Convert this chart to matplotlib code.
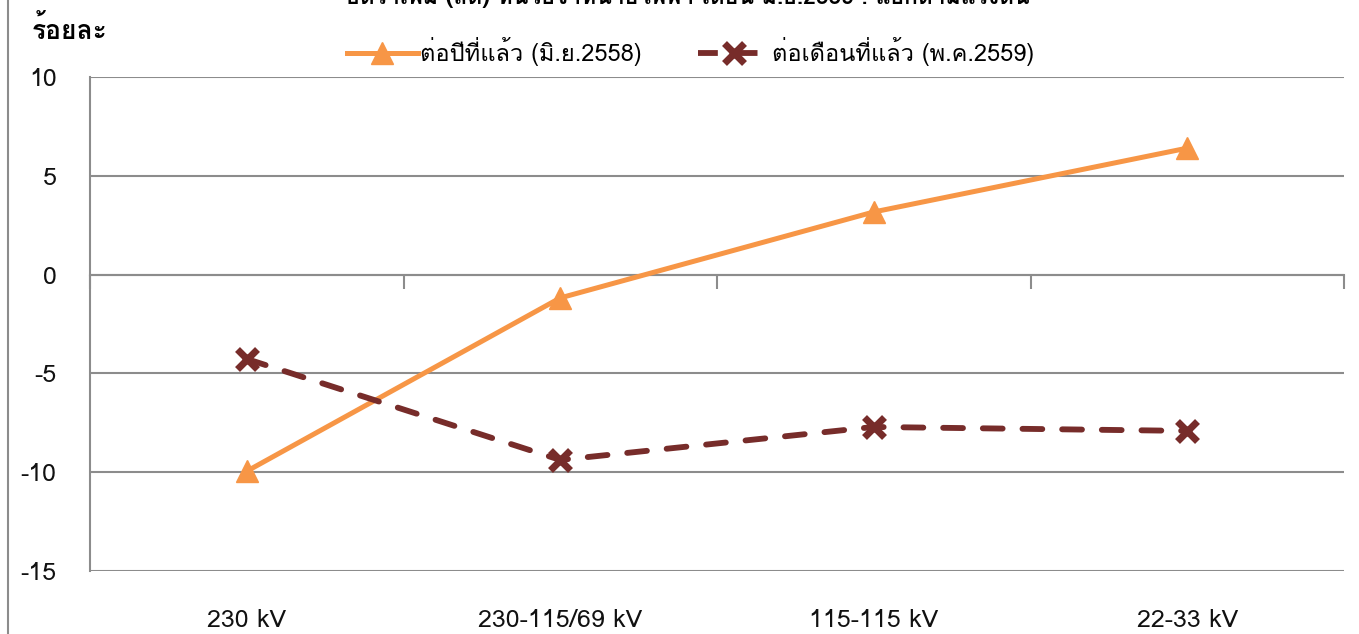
import matplotlib.pyplot as plt
from matplotlib import font_manager
from matplotlib.lines import Line2D
from matplotlib.transforms import blended_transform_factory

categories = ["230 kV", "230-115/69 kV", "115-115 kV", "22-33 kV"]
yoy = [-9.95, -1.18, 3.17, 6.40]
mom = [-4.27, -9.38, -7.71, -7.91]
yoy_label = "ต่อปีที่แล้ว (มิ.ย.2558)"
mom_label = "ต่อเดือนที่แล้ว (พ.ค.2559)"
title = "อัตราเพิ่ม (ลด) หน่วยจำหน่ายไฟฟ้า เดือน มิ.ย.2559 : แยกตามแรงดัน"
y_unit = "ร้อยละ"

# find whatever font has thai glyphs
thai_fonts = []
for f in font_manager.fontManager.ttflist:
    if "thai" in f.name.lower() or f.name in ("Loma", "Garuda", "Sarabun", "Tahoma"):
        if f.name not in thai_fonts:
            thai_fonts.append(f.name)
families = thai_fonts + ["DejaVu Sans"]
plt.rcParams["font.family"] = families
plt.rcParams["axes.unicode_minus"] = False

orange = "#F79646"
darkred = "#772C2A"
grid_c = "#8C8C8C"

fig = plt.figure(figsize=(13.59, 6.34), dpi=100)
ax = fig.add_axes([90 / 1359, 63 / 634, 1254 / 1359, 494 / 634])

x = [i + 0.5 for i in range(len(categories))]
ax.plot(x, yoy, color=orange, lw=3.6, marker="^", markersize=16,
        markerfacecolor=orange, markeredgecolor=orange, zorder=3)
ax.plot(x, mom, color=darkred, lw=4.2, dashes=(3.4, 3.4), dash_capstyle="round",
        marker="x", markersize=14, markeredgewidth=5, zorder=3)

ax.set_xlim(0, 4)
ax.set_ylim(-15, 10)
ax.set_yticks(range(-15, 11, 5))
ax.yaxis.grid(True, color=grid_c, lw=1.5)
ax.set_axisbelow(True)
ax.tick_params(axis="y", length=0, labelsize=18, pad=24, labelcolor="#111111")

# category axis sits at zero with ticks between categories
for s in ["top", "right"]:
    ax.spines[s].set_visible(False)
ax.spines["left"].set_color(grid_c)
ax.spines["left"].set_linewidth(1.5)
ax.spines["bottom"].set_position(("data", 0))
ax.spines["bottom"].set_color(grid_c)
ax.spines["bottom"].set_linewidth(1.5)
ax.set_xticks(range(0, 5))
ax.tick_params(axis="x", direction="out", length=10, width=1.5, color=grid_c,
               labelbottom=False)

trans = blended_transform_factory(ax.transData, ax.transAxes)
for xi, lab in zip(x, categories):
    ax.text(xi, -0.1, lab, transform=trans, ha="center", va="center",
            fontsize=18, color="#111111")

handles = [
    Line2D([], [], color=orange, lw=3.6, marker="^", markersize=16),
    Line2D([], [], color=darkred, lw=4.2, dashes=(3.4, 3.4), marker="x",
           markersize=14, markeredgewidth=5),
]
fig.legend(handles, [yoy_label, mom_label], loc="center", bbox_to_anchor=(0.508, 0.918),
           ncol=2, frameon=False, fontsize=17, handlelength=3.0, handletextpad=0.1,
           columnspacing=2.4)

fig.text(32 / 1359, 1 - 30 / 634, y_unit, fontsize=19, fontweight="bold",
         ha="left", va="center")
# title is cut off at the top edge in the original
fig.text(0.506, 1.01, title, fontsize=16.5, fontweight="bold", ha="center", va="center")

fig.add_artist(Line2D([8 / 1359, 8 / 1359], [0, 1], color=grid_c, lw=1.5))

fig.savefig("out.png", dpi=100)
